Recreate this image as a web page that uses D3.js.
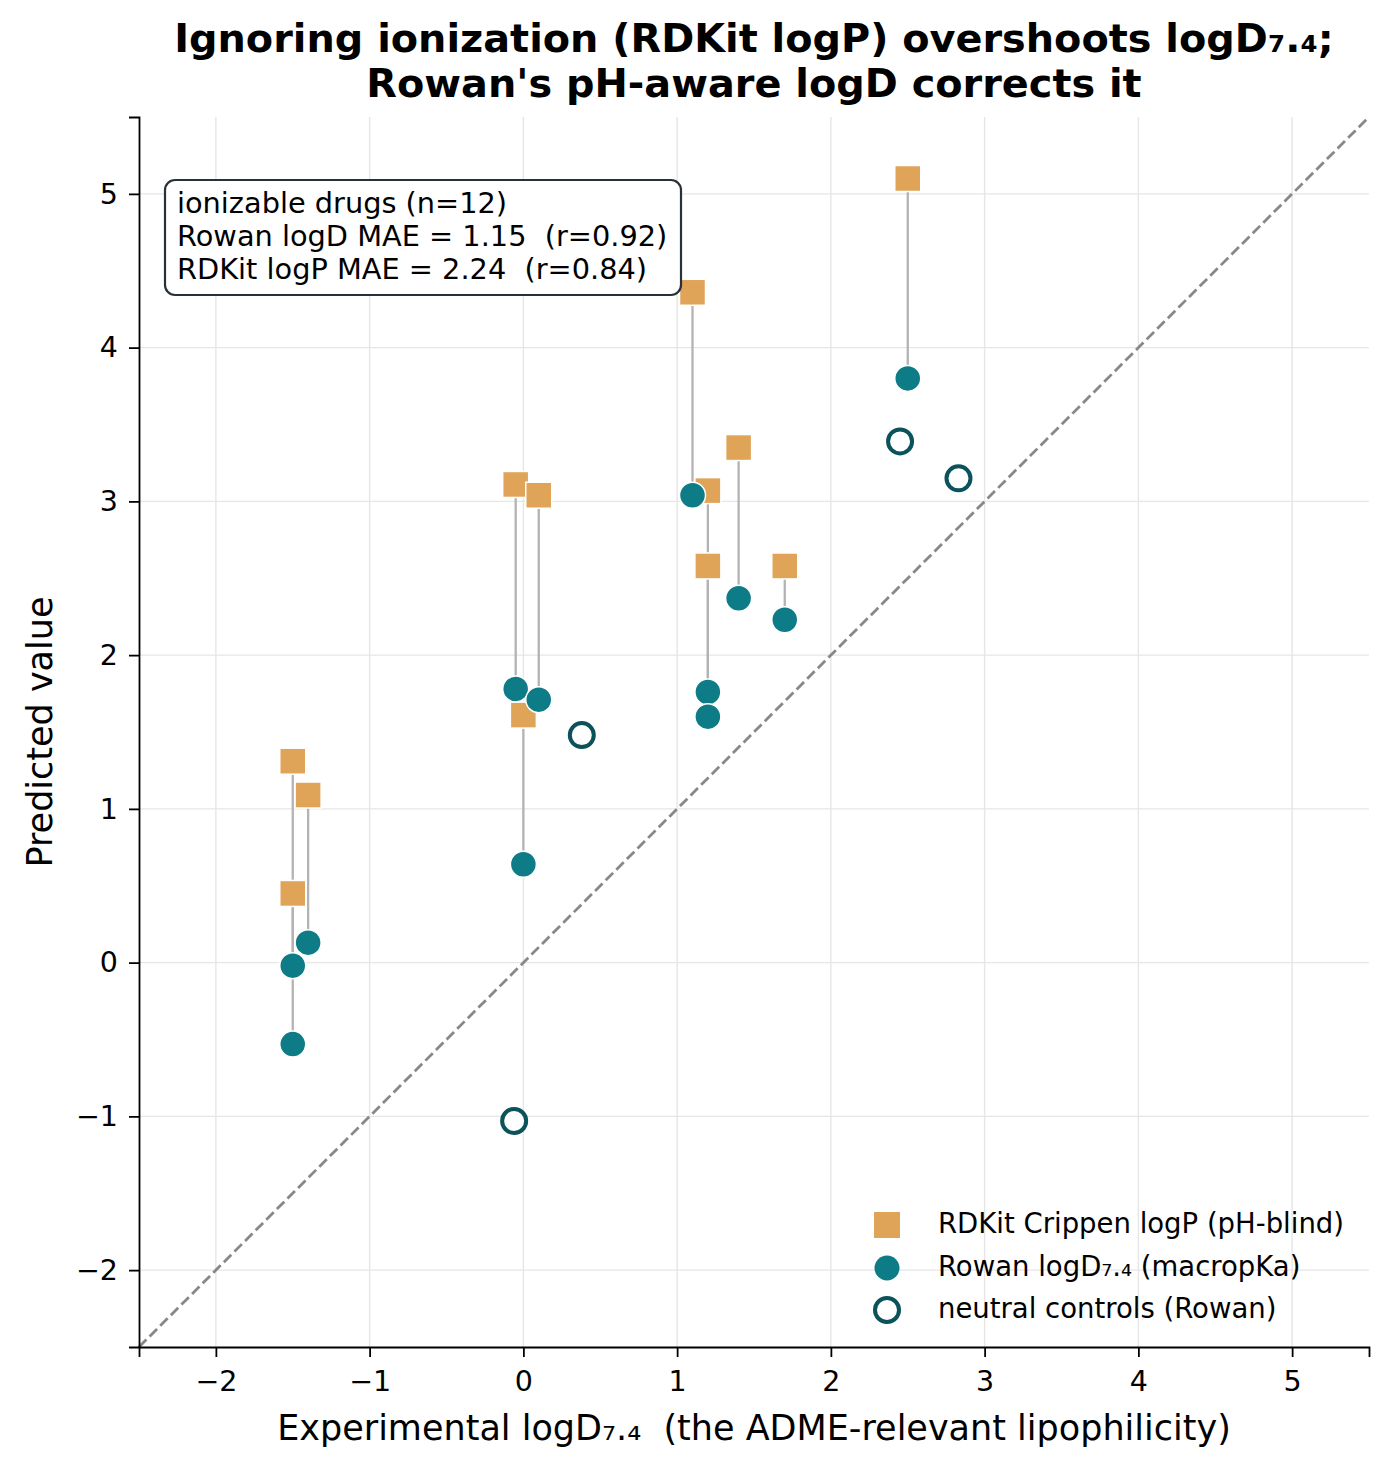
<!DOCTYPE html>
<html>
<head>
<meta charset="utf-8">
<script src="https://cdn.jsdelivr.net/npm/d3@7"></script>
<style>
  body { margin: 0; background: #fff; }
  text { font-family: "DejaVu Sans", sans-serif; white-space: pre; }
</style>
</head>
<body>
<div id="chart"></div>
<script>
// experimental logD7.4 vs predicted, ionizable drugs
const expIon   = [-1.5, -1.5, -1.4, -0.05, 0.1, 0.0, 1.1, 1.2, 1.2, 1.4, 1.7, 2.5];
const rdkitLogP = [1.31, 0.45, 1.09, 3.11, 3.04, 1.61, 4.36, 3.07, 2.58, 3.35, 2.58, 5.10];
const rowanLogD = [-0.02, -0.53, 0.13, 1.78, 1.71, 0.64, 3.04, 1.76, 1.60, 2.37, 2.23, 3.80];

// neutral controls
const expNeutral   = [0.38, -0.06, 2.45, 2.83];
const rowanNeutral = [1.48, -1.03, 3.39, 3.15];

const ticks = [-2, -1, 0, 1, 2, 3, 4, 5];
const statLines = [
  'ionizable drugs (n=12)',
  'Rowan logD MAE = 1.15  (r=0.92)',
  'RDKit logP MAE = 2.24  (r=0.84)'
];
const legendLabels = [
  'RDKit Crippen logP (pH-blind)',
  'Rowan logD\u2087.\u2084 (macropKa)',
  'neutral controls (Rowan)'
];

const width = 1391;
const height = 1470;
const margin = {left: 139, right: 22, top: 117, bottom: 123};

const orange = '#E0A458';
const teal = '#0E7C86';
const darkTeal = '#0B525B';

const svg = d3.select('#chart').append('svg')
  .attr('width', width)
  .attr('height', height);

const x = d3.scaleLinear().domain([-2.5, 5.5]).range([margin.left, width - margin.right]);
const y = d3.scaleLinear().domain([-2.5, 5.5]).range([height - margin.bottom, margin.top]);
const midX = (x(-2.5) + x(5.5)) / 2;

// grid
const grid = svg.append('g');
grid.selectAll('.gx').data(ticks).enter().append('line')
  .attr('x1', d => x(d)).attr('x2', d => x(d))
  .attr('y1', y(-2.5)).attr('y2', y(5.5))
  .attr('stroke', '#e6e6e6').attr('stroke-width', 1.4);
grid.selectAll('.gy').data(ticks).enter().append('line')
  .attr('y1', d => y(d)).attr('y2', d => y(d))
  .attr('x1', x(-2.5)).attr('x2', x(5.5))
  .attr('stroke', '#e6e6e6').attr('stroke-width', 1.4);

// identity line
svg.append('line')
  .attr('x1', x(-2.5)).attr('y1', y(-2.5))
  .attr('x2', x(5.5)).attr('y2', y(5.5))
  .attr('stroke', '#888').attr('stroke-width', 2.8)
  .attr('stroke-dasharray', '10.5,4.5');

// connectors
svg.append('g').selectAll('line').data(expIon).enter().append('line')
  .attr('x1', d => x(d)).attr('x2', d => x(d))
  .attr('y1', (d, i) => y(rdkitLogP[i]))
  .attr('y2', (d, i) => y(rowanLogD[i]))
  .attr('stroke', '#b3b3b3').attr('stroke-width', 2.3);

// RDKit squares
const sq = 26;
svg.append('g').selectAll('rect').data(expIon).enter().append('rect')
  .attr('x', d => x(d) - sq / 2)
  .attr('y', (d, i) => y(rdkitLogP[i]) - sq / 2)
  .attr('width', sq).attr('height', sq)
  .attr('fill', orange).attr('stroke', '#fff').attr('stroke-width', 1.5);

// Rowan circles
svg.append('g').selectAll('circle').data(expIon).enter().append('circle')
  .attr('cx', d => x(d))
  .attr('cy', (d, i) => y(rowanLogD[i]))
  .attr('r', 13)
  .attr('fill', teal).attr('stroke', '#fff').attr('stroke-width', 1.5);

// neutral controls
svg.append('g').selectAll('circle').data(expNeutral).enter().append('circle')
  .attr('cx', d => x(d))
  .attr('cy', (d, i) => y(rowanNeutral[i]))
  .attr('r', 12)
  .attr('fill', '#fff').attr('stroke', darkTeal).attr('stroke-width', 4);

// axes
const xAxis = svg.append('g')
  .attr('transform', `translate(0, ${y(-2.5)})`)
  .call(d3.axisBottom(x).tickValues(ticks).tickSize(10).tickPadding(14));
const yAxis = svg.append('g')
  .attr('transform', `translate(${x(-2.5)}, 0)`)
  .call(d3.axisLeft(y).tickValues(ticks).tickSize(10).tickPadding(11));
[xAxis, yAxis].forEach(a => {
  a.select('.domain').attr('stroke', '#000').attr('stroke-width', 1.8);
  a.selectAll('.tick line').attr('stroke', '#000').attr('stroke-width', 1.8);
  a.selectAll('.tick text').attr('font-size', 28.5).attr('fill', '#000')
    .style('font-family', '"DejaVu Sans", sans-serif');
});

// axis labels
svg.append('text')
  .attr('x', midX).attr('y', 1440)
  .attr('text-anchor', 'middle').attr('font-size', 35)
  .text('Experimental logD\u2087.\u2084  (the ADME-relevant lipophilicity)');
svg.append('text')
  .attr('transform', `translate(52, ${(y(-2.5) + y(5.5)) / 2}) rotate(-90)`)
  .attr('text-anchor', 'middle').attr('font-size', 35)
  .text('Predicted value');

// title
const title = svg.append('text')
  .attr('text-anchor', 'middle').attr('font-size', 39.8).attr('font-weight', 'bold');
title.append('tspan').attr('x', midX).attr('y', 52)
  .text('Ignoring ionization (RDKit logP) overshoots logD\u2087.\u2084;');
title.append('tspan').attr('x', midX).attr('y', 97)
  .text("Rowan's pH-aware logD corrects it");

// stats box
const box = svg.append('g');
box.append('rect')
  .attr('x', 165).attr('y', 180).attr('width', 516).attr('height', 115)
  .attr('rx', 10).attr('fill', '#fff')
  .attr('stroke', '#263238').attr('stroke-width', 2.2);
box.selectAll('text').data(statLines).enter().append('text')
  .attr('x', 177).attr('y', (d, i) => 213 + i * 33)
  .attr('font-size', 28.8).text(d => d);

// legend
const legend = svg.append('g');
const ly = [1225, 1268, 1310];
legend.append('rect').attr('x', 887 - 13).attr('y', ly[0] - 13)
  .attr('width', 26).attr('height', 26).attr('fill', orange);
legend.append('circle').attr('cx', 887).attr('cy', ly[1]).attr('r', 12.5).attr('fill', teal);
legend.append('circle').attr('cx', 887).attr('cy', ly[2]).attr('r', 12)
  .attr('fill', '#fff').attr('stroke', darkTeal).attr('stroke-width', 4);
legend.selectAll('text').data(legendLabels).enter().append('text')
  .attr('x', 938).attr('y', (d, i) => ly[i] + 8)
  .attr('font-size', 27.5).text(d => d);
</script>
</body>
</html>
